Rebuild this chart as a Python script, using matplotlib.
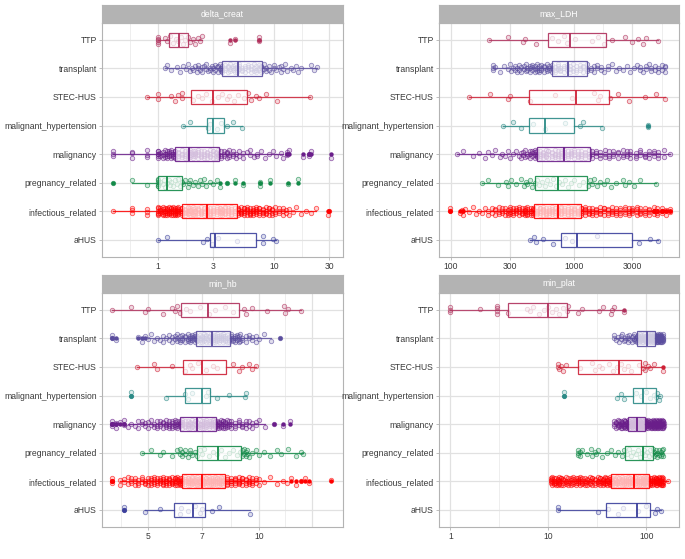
import numpy as np
import matplotlib
matplotlib.use('Agg')
import matplotlib.pyplot as plt
from matplotlib.colors import to_rgba

plt.rcParams['font.family'] = ['Liberation Sans', 'DejaVu Sans']

# ---------- 数据 ----------
categories = ['aHUS', 'infectious_related', 'pregnancy_related', 'malignancy',
              'malignant_hypertension', 'STEC-HUS', 'transplant', 'TTP']
colors = ['#3C409C', '#FF0000', '#138A48', '#6A1E8A',
          '#2B8A86', '#CE2036', '#5A4D9E', '#B0305C']

# 箱线统计: [whislo, q1, med, q3, whishi]，按 categories 顺序
delta_creat_stats = [
    [1.0, 2.81, 3.10, 7.0, 10.5],
    [0.41, 1.62, 2.63, 4.83, 23],
    [0.6, 1.0, 1.19, 1.62, 3.2],
    [0.41, 1.39, 1.85, 3.33, 12.0],
    [1.65, 2.66, 3.0, 3.71, 5.27],
    [0.8, 1.91, 3.0, 5.81, 20.4],
    [1.15, 3.54, 4.86, 7.83, 23.5],
    [1.0, 1.25, 1.52, 1.83, 2.4],
]
max_LDH_stats = [
    [440, 783, 1057, 2967, 4894],
    [130, 478, 740, 1148, 4250],
    [178, 484, 740, 1276, 4660],
    [111, 499, 839, 1358, 6093],
    [267, 435, 583, 1012, 1710],
    [140, 435, 1045, 1941, 5546],
    [221, 661, 894, 1291, 5546],
    [204, 614, 940, 1820, 4830],
]
min_hb_stats = [
    [4.9, 5.88, 6.62, 7.15, 9.44],
    [4.2, 6.2, 7.0, 8.07, 11.9],
    [4.81, 6.79, 7.74, 8.96, 13.2],
    [4.4, 6.09, 6.79, 7.66, 10.4],
    [5.6, 6.29, 7.0, 7.38, 9.2],
    [4.68, 6.22, 7.0, 8.12, 9.84],
    [5.0, 6.76, 7.47, 8.32, 10.8],
    [4.0, 6.16, 7.27, 8.83, 13.0],
]
min_plat_stats = [
    [12.5, 38.7, 81, 109, 141],
    [10.6, 43.3, 74.3, 106, 168],
    [20.2, 60.6, 91.7, 116, 149],
    [47, 64.5, 81, 96.9, 153],
    [49.8, 73.6, 91.7, 127, 138],
    [12.5, 19.9, 52.6, 89, 149],
    [47, 81, 101, 122, 150],
    [1, 3.9, 9.85, 15.6, 59.6],
]

# 散点 ("值" 或 "值*次数")
delta_creat_points = [
    "1.0 1.19 2.46 2.63 2.9 3.3 4.8 8.1*2 9.9 10.5",
    "0.41 0.6*3 0.8*3 1.0*6 1.05*4 1.1*5 1.15*5 1.2*5 1.25*5 1.3*5 1.35*5 1.4*5 1.45*5 1.5*5 "
    "1.6*5 1.7*5 1.8*5 1.9*5 2.0*5 2.1*5 2.2*5 2.35*5 2.5*5 2.65*5 2.8*5 3.0*5 3.2*5 3.4*5 "
    "3.6*5 3.8*5 4.0*5 4.3*5 4.6*5 4.9*5 5.2*5 5.5*5 5.8*5 6.2*5 6.6*5 7.0*5 7.5*5 8.0*5 "
    "8.5*4 9.0*4 9.6*4 10.2*3 11*3 12*3 12.8*2 13.5*2 14.5 15.5 17 19 21 23 29 30",
    "0.41 0.6 0.8 1.0*6 1.05 1.1 1.12 1.15 1.2 1.25 1.28 1.3 1.35 1.4 1.45 1.5 1.55 1.6 1.65 "
    "1.7 1.8 1.85 1.9 2.0 2.1 2.2 2.3 2.4 2.5 2.6 2.8 3.0 3.2 3.4 3.9 4.6 5.4 7.6*2 9.2 13.3 16.2",
    "0.41*3 0.6*3 0.8*3 1.0*6 1.05*2 1.1*3 1.15*3 1.2*4 1.25*3 1.3*4 1.35*3 1.4*4 1.5*4 1.6*4 "
    "1.7*4 1.8*4 1.9*4 2.0*4 2.1*4 2.2*4 2.35*4 2.5*4 2.65*4 2.8*4 3.0*4 3.15*4 3.3*4 3.5*3 "
    "3.7*3 3.9*3 4.1*3 4.4*3 4.7*2 5.0*2 5.4*2 5.8 6.2*2 6.7 7.2*2 7.7 8.3 9 9.8 10.5 11.5 12 "
    "13*2 13.6 17.8 20*2 21 31",
    "1.65 1.89 2.7 2.8 3.2 3.5 3.9 4.4 5.27",
    "0.8 1.0*2 1.3 1.4 1.5 1.6 1.62 2.0 2.2 2.4 2.6 2.9 3.3 3.6 3.9 4.1 4.5 4.9 5.5 6.0 6.4 "
    "7.0 7.5 8.5 10.6 20.4",
    "1.15 1.2 1.3 1.45 1.55 1.65 1.75 1.8 1.9 1.95 2.0 2.1 2.15 2.2*2 2.3 2.4*2 2.5 2.6*2 2.7 "
    "2.8*2 2.9 3.0*2 3.1*2 3.2 3.3*2 3.4*2 3.5*2 3.6*3 3.8*3 4.0*3 4.2*3 4.4*3 4.6*3 4.8*3 "
    "5.0*3 5.3*3 5.6*3 6.0*3 6.3*3 6.7*3 7.0*3 7.4*3 7.8*3 8.2*2 8.6*2 9.0*2 9.5 10*2 10.5 11 "
    "11.5*2 12 12.5 13 14 14.5 15.5 16 17 21 22 23.5",
    "1.0*5 1.15 1.2 1.28 1.35 1.42 1.5 1.58 1.65 1.72 1.8 1.9 2.0 2.1 2.2 2.3 2.4 4.2 4.6 7.5*2",
]
max_LDH_points = [
    "440 477 497 558 676 849 962 1540 3400 4200 4894",
    "98*2 118 122 125 130 140 150 160 170 180 190 200*2 215*2 230*3 245*3 260*3 275*3 290*3 "
    "305*4 320*4 340*4 360*4 380*4 400*5 420*5 445*5 470*5 500*5 530*5 560*5 590*5 625*5 "
    "660*5 700*5 740*5 790*5 840*5 890*5 950*5 1010*5 1080*5 1150*5 1230*5 1320*4 1420*4 "
    "1520*4 1640*4 1760*4 1900*4 2050*4 2200*4 2400*4 2600*4 2800*4 3000*4 3250*4 3500*4 "
    "3800*4 4100*4 4500*3 4800*3 5200*3 5600*2 6093*2",
    "178 200 240 280 290 310 340 370 390 410 420 440 460 480 500 520 550 580 610 640 680 720 "
    "760 800 850 900 950 1000 1100 1200 1300 1350 1400 1450 1550 1650 1750 1850 2000 2200 "
    "2500 2600 2800 3100 3500 4660",
    "111 125 150 170 190 200 215 230 250 260 275 290 300 320 340 355 370*2 385*2 400*2 420*2 "
    "440*3 460*3 480*4 500*4 530*4 560*4 590*4 620*4 660*4 700*4 740*4 790*4 840*4 890*4 "
    "950*4 1010*4 1080*4 1150*4 1230*4 1320*4 1420*3 1520*3 1650*3 1800*3 1950*3 2100*3 "
    "2300*3 2500*3 2700*3 2900*3 3200*3 3500*3 3800*3 4100*3 4500*3 4900*3 5400*2 6093",
    "267 322 370 469 583 849 1127 1200 1710 4010*2",
    "140 208 290 300 440 702 960 1450 1590 1640 1960 2311 2800 3800 4700 5546",
    "221*3 230 250 270 290 300 310 320 330*2 345*2 360*2 375*2 390*2 405*2 420*2 440*3 460*3 "
    "480*3 500*3 520*3 545*3 570*3 600*3 630*3 660*3 700*3 740*3 780*3 830*3 880*3 930*3 "
    "990*3 1050*3 1120*3 1200*3 1290*3 1380*2 1470*2 1560*2 1660*2 1780 1900*2 2050 2200 "
    "2350 2500 2700 2900 3100 3300 3500*2 3700 3900*2 4100 4300*2 4600*2 4900*2 5200*2 5546*3",
    "204 293 388 400 495 660 750 830 880 1020 1400 1590 1750 2040 2600 2970 3360 3700 3900 4830",
]
min_hb_points = [
    "4.3*2 4.9 5.4 6.1 6.15 6.4 6.7 6.9 7.0 7.45 7.8 9.44",
    "4.0*3 4.2*2 4.3*2 4.4*2 4.5*3 4.6*3 4.7*3 4.8*3 4.9*3 5.0*3 5.1*4 5.2*4 5.3*4 5.4*4 "
    "5.5*5 5.6*5 5.7*5 5.8*5 5.9*5 6.0*5 6.1*5 6.2*5 6.3*5 6.4*5 6.5*5 6.6*5 6.7*5 6.8*5 "
    "6.9*5 7.0*5 7.1*5 7.2*5 7.3*5 7.4*5 7.5*5 7.6*5 7.7*5 7.8*5 7.9*5 8.0*5 8.2*5 8.4*5 "
    "8.6*5 8.8*5 9.0*4 9.2*4 9.4*4 9.6*4 9.8*3 10.0*2 10.3 10.7 11.2 11.6 11.9 12.2 12.6 "
    "13.0 13.3 13.7 15.7",
    "4.81 5.1 5.4 5.5 5.8 6.0 6.1*2 6.2*2 6.3*2 6.4 6.5*2 6.6 6.7 6.8 6.9 7.0 7.1 7.3 7.5 7.7 "
    "7.9 8.1 8.3 8.5 8.7 8.9 9.0*2 9.1*2 9.2*2 9.3*2 9.4 9.6 9.8 10.0 10.3 10.7 11.2 11.5 "
    "12.0 12.6 13.0 13.2",
    "4.0*3 4.1*2 4.2 4.3*2 4.4 4.5 4.6 4.7*2 4.8*2 4.9*2 5.0*2 5.1*2 5.2*2 5.3*3 5.4*3 5.5*3 "
    "5.6*4 5.7*4 5.8*4 5.9*4 6.0*4 6.1*4 6.2*4 6.3*4 6.4*4 6.5*4 6.6*4 6.7*4 6.8*4 6.9*4 "
    "7.0*4 7.1*4 7.2*4 7.3*4 7.4*4 7.5*4 7.6*4 7.7*4 7.8*4 7.9*4 8.0*4 8.1*4 8.2*3 8.3*3 "
    "8.4*3 8.6*3 8.8*3 9.0*3 9.2*3 9.4*2 9.6*2 9.8*2 10.0 10.4 11.0 11.6 12.1",
    "4.5*2 5.6 6.3 6.4 6.6 7.2 7.25 7.7 8.3 9.15 9.2",
    "4.68 5.2 5.3 5.8 6.3 6.5 6.6 6.85 7.2 7.5 7.7 8.5 8.8 9.0 9.4 9.6 9.84",
    "4.0*2 4.1 4.7 4.8 4.9 5.0 5.1 5.2 5.3 5.4 5.5*2 5.6 5.7*2 5.8*2 5.9*2 6.0*3 6.1*3 6.2*3 "
    "6.3*3 6.4*3 6.5*4 6.6*4 6.7*4 6.8*4 6.9*4 7.0*4 7.1*4 7.2*4 7.3*4 7.4*4 7.5*4 7.6*4 "
    "7.7*4 7.8*4 7.9*4 8.0*4 8.1*4 8.2*3 8.3*3 8.4*3 8.5*3 8.6*3 8.7*3 8.8*3 8.9*2 9.0*2 "
    "9.2*2 9.4*2 9.6*2 9.8*2 10.0 10.3 10.8 11.4",
    "4.0 4.5 4.9 5.0 5.5 5.8 5.9 6.0 6.1 6.35 6.5 6.9 7.3 7.6 8.1 8.5 9.1 9.2 9.6 10.5 11.7 "
    "11.8 12.0 13.0",
]
min_plat_points = [
    "12.5*2 32.4 41 51 58 83 100 122 130 141",
    "10.6*4 11*4 11.5*4 12*4 12.5*4 13*4 13.5*4 14*4 15*4 16*4 17*4 18*4 19*4 20*4 21*4 22*4 "
    "23.5*4 25*4 26.5*4 28*4 30*4 32*4 34*5 36*5 38*5 40*5 42.5*5 45*5 47.5*5 50*5 53*5 56*5 "
    "59*5 62*5 65*5 68*5 72*5 76*5 80*5 84*5 88*5 92*5 96*5 100*5 105*5 110*5 115*5 120*5 "
    "125*5 130*5 135*5 140*5 145*5 150*4 168",
    "20.2*3 21*2 22 25 27 28 30 31 32 35 40 44 48 52 56 60 63 66 70 74 78 82 86 90 94 98 102 "
    "106 110 114 118 120*2 125*2 130*2 135*2 140*2 145*2 149*2",
    "47*3 49*3 51*3 53*3 55*4 57*4 59*4 61*4 63*4 65*4 67*4 69*4 71*4 73*4 75*4 77*4 79*4 "
    "81*4 83*4 85*4 87*4 89*4 91*4 93*4 95*4 97*4 99*4 102*4 105*4 108*4 111*4 114*4 117*4 "
    "120*4 123*4 126*4 129*4 132*4 135*4 138*4 141*4 144*4 147*4 150*3 153*2",
    "14.6*2 49.8 55 60 78 88 100 110 120 125 130 135 138",
    "12.5*2 13 13.5 14 15 21 28 30 33 35 42 46 50 55 60 65 70 85 92 97*2 105 110 120 150",
    "47*2 49 51 53 55*2 57 59 61*2 63 65*2 67 69 71*2 73 75*2 77 79*2 81*2 83*3 85*3 87*3 "
    "89*3 91*3 93*3 95*3 97*3 99*3 101*3 103*3 105*3 107*3 109*3 111*3 113*3 115*3 117*3 "
    "119*3 121*3 123*3 125*3 127*3 129*3 131*3 133*3 135*3 137*3 139*3 141*3 143*3 145*3 "
    "147*3 150*3",
    "1*3 2 3*4 3.9 6 6.5 7 8 9 10 11 12 13 14 15.5 16 20 22 33 36 44 45 47 60",
]

# ---------- 版式 ----------
W, H = 685, 559
JIT = [0.0, 0.11, -0.07, 0.04, -0.13, 0.08, -0.03, 0.14, -0.1, 0.02, -0.05, 0.1, -0.14]
FS = 6.2
GRID = '#e1e1e1'
BORDER = '#b3b3b3'

panels = [
    # 标题, 统计, 散点, 像素框, x范围, 主刻度, 刻度标签, 次网格, 额外网格
    ('delta_creat', delta_creat_stats, delta_creat_points, (102, 22.7, 343, 257),
     (0.329, 39.4), [1, 3, 10, 30], ['1', '3', '10', '30'], [0.577, 1.73, 5.48, 17.3], []),
    ('max_LDH', max_LDH_stats, max_LDH_points, (439, 22.7, 679, 257),
     (79.8, 7210), [100, 300, 1000, 3000], ['100', '300', '1000', '3000'],
     [173, 548, 1733, 5196], []),
    ('min_hb', min_hb_stats, min_hb_points, (102, 292.7, 343, 527),
     (3.75, 16.9), [5, 7, 10], ['5', '7', '10'], [4.23, 5.92, 8.37, 11.8], [13.9]),
    ('min_plat', min_plat_stats, min_plat_points, (439, 292.7, 679, 527),
     (0.767, 216), [1, 10, 100], ['1', '10', '100'], [3.16, 31.6], []),
]


def parse(s):
    out = []
    for tok in s.split():
        if '*' in tok:
            v, n = tok.split('*')
            out += [float(v)] * int(n)
        else:
            out.append(float(tok))
    return np.array(out)


def px_axes(fig, x0, y0, x1, y1):
    return fig.add_axes([x0 / W, 1 - y1 / H, (x1 - x0) / W, (y1 - y0) / H])


fig = plt.figure(figsize=(W / 100, H / 100), dpi=100)

for title, stats, points, box, xlim, majors, labels, minors, extra in panels:
    x0, y0, x1, y1 = box
    ax = px_axes(fig, x0, y0, x1, y1)
    ax.set_xscale('log')
    ax.set_xlim(*xlim)
    ax.set_ylim(0.4, 8.6)

    # 网格
    for v in minors:
        ax.axvline(v, color='#ebebeb', lw=0.6, zorder=0)
    for v in majors + extra:
        ax.axvline(v, color=GRID, lw=0.9, zorder=0)
    for k in range(1, 9):
        ax.axhline(k, color=GRID, lw=0.9, zorder=0)

    for k, (st, pts, col) in enumerate(zip(stats, points, colors)):
        yc = k + 1
        vals = parse(pts)
        jit = np.array([JIT[i % len(JIT)] for i in range(len(vals))])
        ax.scatter(vals, yc + jit, s=10, marker='o',
                   facecolors=[to_rgba(col, 0.18)], edgecolors=[to_rgba(col, 0.6)],
                   linewidths=0.65, zorder=2)
        lo, q1, med, q3, hi = st
        ax.bxp([{'whislo': lo, 'q1': q1, 'med': med, 'q3': q3, 'whishi': hi, 'fliers': []}],
               positions=[yc], widths=0.5, orientation='horizontal', patch_artist=True,
               showcaps=False, showfliers=False,
               boxprops=dict(facecolor=(1, 1, 1, 0.7), edgecolor=to_rgba(col, 0.9), linewidth=0.9),
               whiskerprops=dict(color=to_rgba(col, 0.85), linewidth=0.9),
               medianprops=dict(color=col, linewidth=1.3),
               zorder=3)
        out = vals[(vals < lo) | (vals > hi)]
        ax.scatter(out, np.full(len(out), yc), s=10, color=col, linewidths=0, zorder=4)

    ax.set_yticks(range(1, 9))
    ax.set_yticklabels(categories)
    ax.set_xticks(majors)
    ax.set_xticklabels(labels)
    ax.xaxis.set_minor_locator(matplotlib.ticker.NullLocator())
    ax.tick_params(axis='both', length=2.2, width=0.6, color=BORDER, labelsize=FS,
                   labelcolor='#3a3a3a', pad=1.6)
    for sp in ax.spines.values():
        sp.set_color(BORDER)
        sp.set_linewidth(0.8)

    # 分面标题条
    sax = px_axes(fig, x0, y0 - 17.7, x1, y0)
    sax.set_facecolor(BORDER)
    sax.set_xticks([])
    sax.set_yticks([])
    for sp in sax.spines.values():
        sp.set_color(BORDER)
        sp.set_linewidth(0.8)
    sax.text(0.5, 0.5, title, color='white', fontsize=FS, ha='center', va='center',
             transform=sax.transAxes)

fig.savefig('out.png', dpi=100)
